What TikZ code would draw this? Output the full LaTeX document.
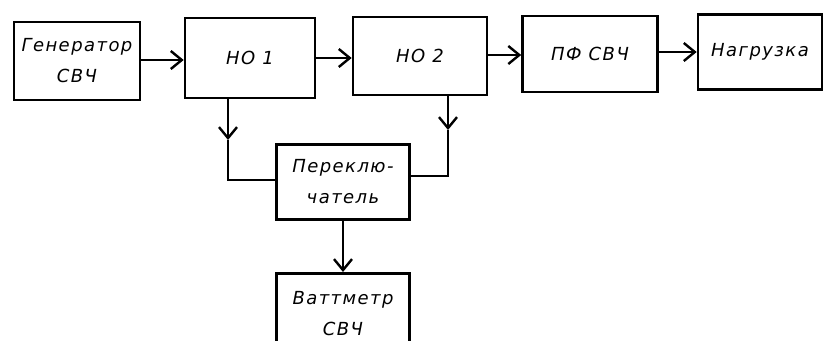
\documentclass[tikz,border=0pt]{standalone}
\usepackage{fontspec}
\setmainfont{DejaVu Sans}
\usepackage{tikz}
\usetikzlibrary{arrows.meta}
\tikzset{
  blockbox/.style={
    rectangle,
    draw=black,
    line width=2.6pt,
    align=center,
    inner sep=2pt,
    font=\fontsize{18}{31}\selectfont\itshape\addfontfeature{LetterSpace=8}
  },
  blockarrow/.style={
    -{Straight Barb[length=11pt,width=18pt,line width=2.4pt]},
    line width=2.6pt,
    draw=black
  },
  blockline/.style={
    line width=2.6pt,
    draw=black
  }
}
\begin{document}
\begin{tikzpicture}[x=1pt,y=-1pt]
\useasboundingbox (0,0) rectangle (827,340);
\node[blockbox, minimum width=126pt, minimum height=78pt] (gen) at (77,61) {Генератор\\СВЧ};
\node[blockbox, minimum width=130pt, minimum height=80pt] (no1) at (250,58) {НО 1};
\node[blockbox, minimum width=134pt, minimum height=78pt] (no2) at (420,56) {НО 2};
\node[blockbox, minimum width=135pt, minimum height=76pt] (pf) at (590,54) {ПФ СВЧ};
\node[blockbox, minimum width=124pt, minimum height=75pt] (load) at (760,52) {Нагрузка};
\node[blockbox, minimum width=133pt, minimum height=75pt] (sw) at (343,182) {Переклю-\\чатель};
\node[blockbox, minimum width=133pt, minimum height=80pt, anchor=north] (watt) at (343,272) {Ваттметр\\СВЧ};
\coordinate (tap1) at (228,140);
\coordinate (tap2) at (448,130);

\draw[blockarrow] (gen.east |- 0,60) -- (no1.west |- 0,60);
\draw[blockarrow] (no1.east |- 0,58) -- (no2.west |- 0,58);
\draw[blockarrow] (no2.east |- 0,55) -- (pf.west |- 0,55);
\draw[blockarrow] (pf.east |- 0,52) -- (load.west |- 0,52);
\draw[blockarrow] (no1.south -| tap1) -- (tap1);
\draw[blockline] (tap1) |- (sw.west |- 0,180);
\draw[blockarrow] (no2.south -| tap2) -- (tap2);
\draw[blockline] (tap2) |- (sw.east |- 0,176);
\draw[blockarrow] (sw) -- (watt);
\end{tikzpicture}
\end{document}
